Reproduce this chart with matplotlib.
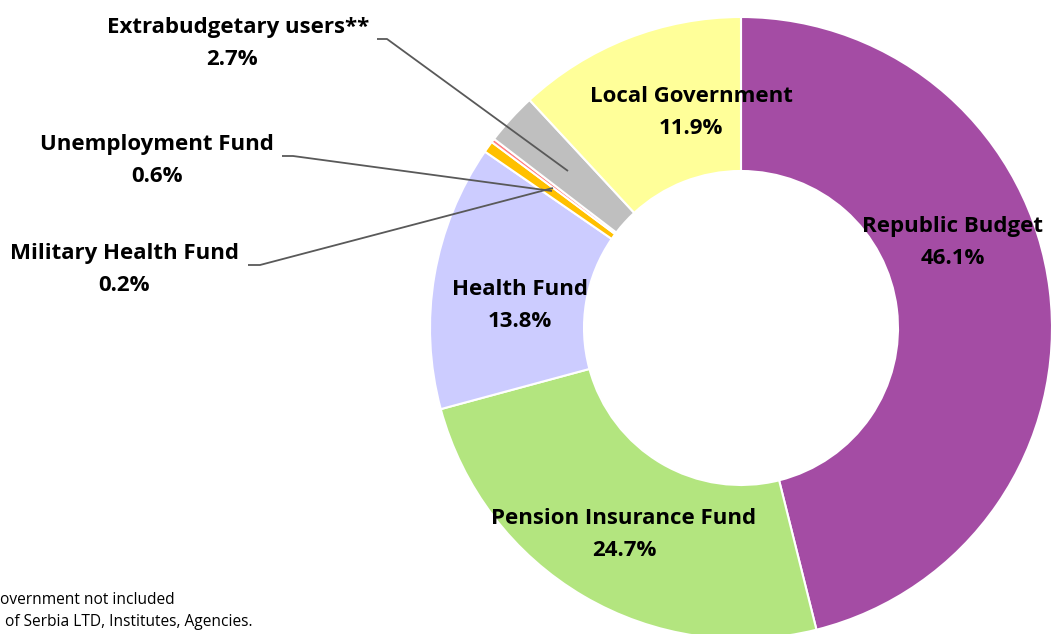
import matplotlib
matplotlib.use("Agg")
import matplotlib.pyplot as plt

categories = ["Republic Budget", "Pension Insurance Fund", "Health Fund",
              "Unemployment Fund", "Military Health Fund",
              "Extrabudgetary users**", "Local Government"]
values = [46.1, 24.7, 13.8, 0.6, 0.2, 2.7, 11.9]
colors = ["#A44CA4", "#B3E57F", "#CCCCFF", "#FFC000", "#FF7C80", "#BFBFBF", "#FFFF99"]
footnotes = ["overnment not included", "of Serbia LTD, Institutes, Agencies."]

W, H = 1053, 634
fig = plt.figure(figsize=(W / 100, H / 100), dpi=100)
ax = fig.add_axes([0, 0, 1, 1])

cx, cy, R, r_in = 741, H - 328, 311, 157
ax.pie(values, colors=colors, startangle=90, counterclock=False,
       radius=R, center=(cx, cy),
       wedgeprops=dict(width=R - r_in, edgecolor="white", linewidth=1.5))
ax.set_xlim(0, W)
ax.set_ylim(0, H)
ax.set_aspect("equal")
ax.axis("off")

font = dict(family=["Open Sans", "DejaVu Sans"], fontweight="bold", fontsize=16,
            color="black", va="baseline", ha="center")

def lab(i, x, y, x2=None):
    ax.text(x, H - y, categories[i], **font)
    ax.text(x if x2 is None else x2, H - y - 32, f"{values[i]:.1f}%", **font)

lab(0, 953, 232)
lab(1, 624, 524)
lab(2, 520, 295)
lab(6, 691, 102)
lab(5, 238, 33, 232)
lab(3, 157, 150)
lab(4, 124, 259)

lc = "#595959"
def leader(pts):
    xs = [p[0] for p in pts]
    ys = [H - p[1] for p in pts]
    ax.plot(xs, ys, color=lc, linewidth=1.3, solid_capstyle="butt")

leader([(377, 39), (387, 39), (568, 171)])
leader([(282, 156), (293, 156), (552, 191)])
leader([(248, 265), (260, 265), (553, 188)])

fn = dict(family=["Open Sans", "DejaVu Sans"], fontsize=11.2, color="black",
          ha="left", va="baseline")
ax.text(0, H - 604, footnotes[0], **fn)
ax.text(5, H - 626, footnotes[1], **fn)

fig.savefig("out.png", dpi=100)
